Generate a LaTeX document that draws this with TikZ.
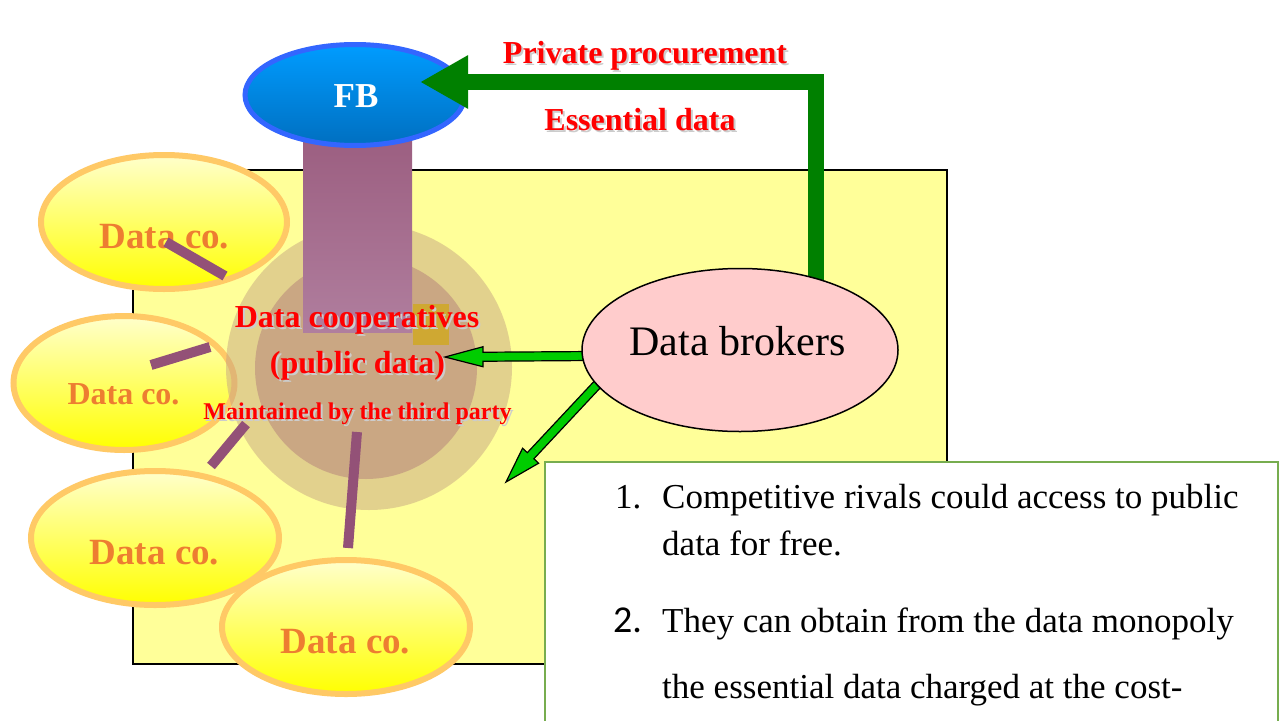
\documentclass[tikz,border=0pt]{standalone}
\usepackage{fontspec}
\setmainfont{Liberation Serif}
\newfontfamily\carlito{Carlito}
\usetikzlibrary{shapes.geometric,arrows.meta,calc}
\definecolor{bgyellow}{HTML}{FFFF99}
\definecolor{dcborder}{HTML}{FFC966}
\definecolor{dctext}{HTML}{ED7D31}
\definecolor{barpurple}{HTML}{935177}
\definecolor{darkgreen}{HTML}{008000}
\definecolor{litegreen}{HTML}{00CC00}
\definecolor{brokerpink}{HTML}{FFCCCC}
\definecolor{boxgreen}{HTML}{77AD4F}
\definecolor{fbtop}{HTML}{009CFF}
\definecolor{fbbot}{HTML}{006FC0}
\definecolor{fbborder}{HTML}{3366FF}
\definecolor{circouter}{HTML}{C7A583}
\definecolor{circinner}{HTML}{B37E7A}
\definecolor{coltop}{HTML}{9C5F81}
\definecolor{colmid}{HTML}{BB97AC}
\definecolor{colbot}{HTML}{B07E9E}
\definecolor{goldsq}{HTML}{CFA832}
\newcommand\redlabel[4]{%
  \node[anchor=base, text=gray!40, font=\bfseries\fontsize{#3}{#3}\selectfont] at ($#2+(2,2)$) {#4};
  \node[anchor=base, text=red, font=\bfseries\fontsize{#3}{#3}\selectfont] (#1) at #2 {#4};}
\tikzset{
  dataco/.style={ellipse, draw=dcborder, line width=6pt, top color=yellow!20!white, bottom color=yellow, inner sep=0pt, minimum height=134pt},
  dctxt/.style={anchor=base, text=dctext, inner sep=0pt, font=\bfseries\fontsize{37}{37}\selectfont},
  barline/.style={draw=barpurple, line width=10pt},
  blockarr/.style={fill=litegreen, draw=black, line width=1.2pt, line join=miter},
  boxtxt/.style={anchor=base west, inner sep=0pt, font=\fontsize{35}{42}\selectfont},
}
\begin{document}
\begin{tikzpicture}[x=1pt,y=-1pt]
\clip (0,0) rectangle (1281,720);
\fill[white] (0,0) rectangle (1281,720);
% background panel
\draw[fill=bgyellow, line width=1.5pt] (133,170) rectangle (947,664);
% data companies
\node[dataco, minimum width=246pt] (dc1) at (164,222) {};
\node[dataco, minimum width=221pt] (dc2) at (124,383) {};
\node[dataco, minimum width=248pt] (dc3) at (155,538) {};
\node[dataco, minimum width=248pt] (dc4) at (346,627) {};
\node[dctxt] (t1) at (164.5,248) {Data co.};
\node[dctxt, font=\bfseries\fontsize{32}{32}\selectfont] (t2) at (123.5,404) {Data co.};
\node[dctxt] (t3) at (154.5,564) {Data co.};
\node[dctxt] (t4) at (345.5,653) {Data co.};
% cooperative circles
\fill[circouter, opacity=0.5] (369,367) circle[radius=143pt];
\fill[circinner, opacity=0.5] (366,368) circle[radius=111pt];
% column
\shade[top color=coltop, middle color=colmid, bottom color=colbot] (303,140) rectangle (412,332);
\fill[goldsq] (413,304) rectangle (449,345);
% FB
\node[ellipse, draw=fbborder, line width=5pt, top color=fbtop, bottom color=fbbot, minimum width=220pt, minimum height=101pt, inner sep=0pt] (fb) at (355,95) {};
\node[anchor=base, text=white, inner sep=0pt, font=\bfseries\fontsize{35}{35}\selectfont] (fbt) at (356,107) {FB};
% broker coordinate and arrows
\coordinate (brokersC) at (740,350);
\coordinate (fbtip) at (420,82);
\draw[line width=16pt, draw=darkgreen, line join=miter, -{Triangle[length=48pt,width=50pt]}] ($(brokersC)+(76,0)$) |- (fbtip);
% horizontal block arrow
\coordinate (a1s) at (592,356);
\coordinate (a1e) at (445,357);
\coordinate (a1c) at ($(a1e)!38pt!(a1s)$);
\draw[blockarr] ($(a1s)!4.5pt!90:(a1e)$) -- ($(a1c)!4.5pt!90:(a1e)$) -- ($(a1c)!10pt!90:(a1e)$) -- (a1e) -- ($(a1c)!10pt!-90:(a1e)$) -- ($(a1c)!4.5pt!-90:(a1e)$) -- ($(a1s)!4.5pt!-90:(a1e)$) -- cycle;
% diagonal block arrow
\coordinate (a2s) at (608,373);
\coordinate (a2e) at (506,482);
\coordinate (a2c) at ($(a2e)!36pt!(a2s)$);
\draw[blockarr] ($(a2s)!4.5pt!90:(a2e)$) -- ($(a2c)!4.5pt!90:(a2e)$) -- ($(a2c)!11pt!90:(a2e)$) -- (a2e) -- ($(a2c)!11pt!-90:(a2e)$) -- ($(a2c)!4.5pt!-90:(a2e)$) -- ($(a2s)!4.5pt!-90:(a2e)$) -- cycle;
% brokers
\node[ellipse, draw=black, line width=1.5pt, fill=brokerpink, minimum width=316pt, minimum height=163pt, inner sep=0pt] (brokers) at (brokersC) {};
\node[anchor=base, inner sep=0pt, font=\fontsize{42}{42}\selectfont] (brokerst) at (737.5,355) {Data brokers};
% bars
\draw[barline] (166,242) -- (225,276);
\draw[barline] (151,365) -- (210,347);
\draw[barline] (211,466) -- (246,424);
\draw[barline] (348,548) -- (357,432);
% red labels
\redlabel{coop}{(357,327)}{32}{Data cooperatives}
\redlabel{pub}{(357.5,373)}{32}{(public data)}
\redlabel{maint}{(357.5,419)}{24}{Maintained by the third party}
\redlabel{priv}{(645,63)}{32}{Private procurement}
\redlabel{ess}{(640,130)}{32}{Essential data}
% text box
\draw[draw=boxgreen, line width=2.5pt, fill=white] (545,462) rectangle (1278,740);
\node[boxtxt] (n1) at (615,508) {1.};
\node[boxtxt] (l1) at (662,508) {Competitive rivals could access to public};
\node[boxtxt] (l2) at (662,555) {data for free.};
\node[boxtxt, font=\carlito\fontsize{38}{42}\selectfont] (n2) at (613,632) {2.};
\node[boxtxt] (l3) at (662,632) {They can obtain from the data monopoly};
\node[boxtxt] (l4) at (662,698) {the essential data charged at the cost-};
\end{tikzpicture}
\end{document}
